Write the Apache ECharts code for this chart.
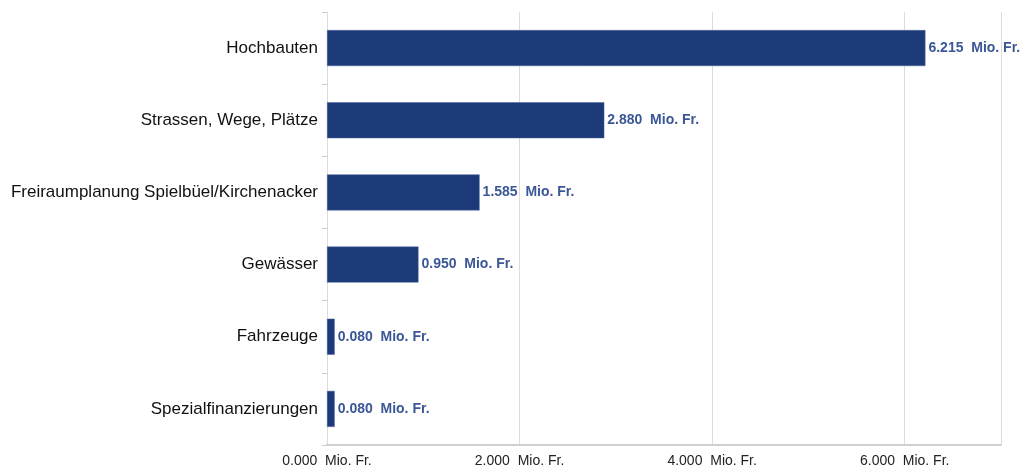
<!DOCTYPE html>
<html>
<head>
<meta charset="utf-8">
<script src="https://cdn.jsdelivr.net/npm/echarts@6/dist/echarts.min.js"></script>
<style>
  html, body { margin: 0; padding: 0; background: #fff; }
  #chart { width: 1024px; height: 476px; }
</style>
</head>
<body>
<div id="chart"></div>
<script>
// Kategorien (von oben nach unten)
var categories = [
  'Hochbauten',
  'Strassen, Wege, Plätze',
  'Freiraumplanung Spielbüel/Kirchenacker',
  'Gewässer',
  'Fahrzeuge',
  'Spezialfinanzierungen'
];
// Werte in Tausend Fr.
var values = [6215, 2880, 1585, 950, 80, 80];

function mio(v) {
  return (v / 1000).toFixed(3) + '  Mio. Fr.';
}

var myChart = echarts.init(document.getElementById('chart'));

var option = {
  animation: false,
  grid: {
    left: 327,
    right: 23,
    top: 12,
    bottom: 31
  },
  xAxis: {
    type: 'value',
    min: 0,
    max: 7000,
    interval: 2000,
    axisLine: { show: true, lineStyle: { color: '#d0d0d0', width: 2 } },
    axisTick: { show: false },
    splitLine: { show: true, lineStyle: { color: '#dcdcdc', width: 1 } },
    axisLabel: {
      showMaxLabel: false,
      margin: 9,
      color: '#222',
      fontSize: 14,
      fontFamily: 'Liberation Sans, Arial',
      formatter: function (v) { return mio(v); }
    }
  },
  yAxis: {
    type: 'category',
    inverse: true,
    data: categories,
    axisLine: { show: false },
    axisTick: { show: true, length: 5, lineStyle: { color: '#cccccc' } },
    axisLabel: {
      margin: 9,
      color: '#111',
      fontSize: 17,
      fontFamily: 'Liberation Sans, Arial'
    }
  },
  series: [{
    type: 'bar',
    data: values,
    barWidth: 36,
    itemStyle: {
      color: '#1d3a78',
      borderColor: '#4d67a0',
      borderWidth: 0.5
    },
    label: {
      show: true,
      position: 'right',
      distance: 3,
      color: '#3b5796',
      fontWeight: 'bold',
      fontSize: 14,
      fontFamily: 'Liberation Sans, Arial',
      formatter: function (p) { return mio(p.value); }
    }
  }]
};
myChart.setOption(option);
</script>
</body>
</html>
